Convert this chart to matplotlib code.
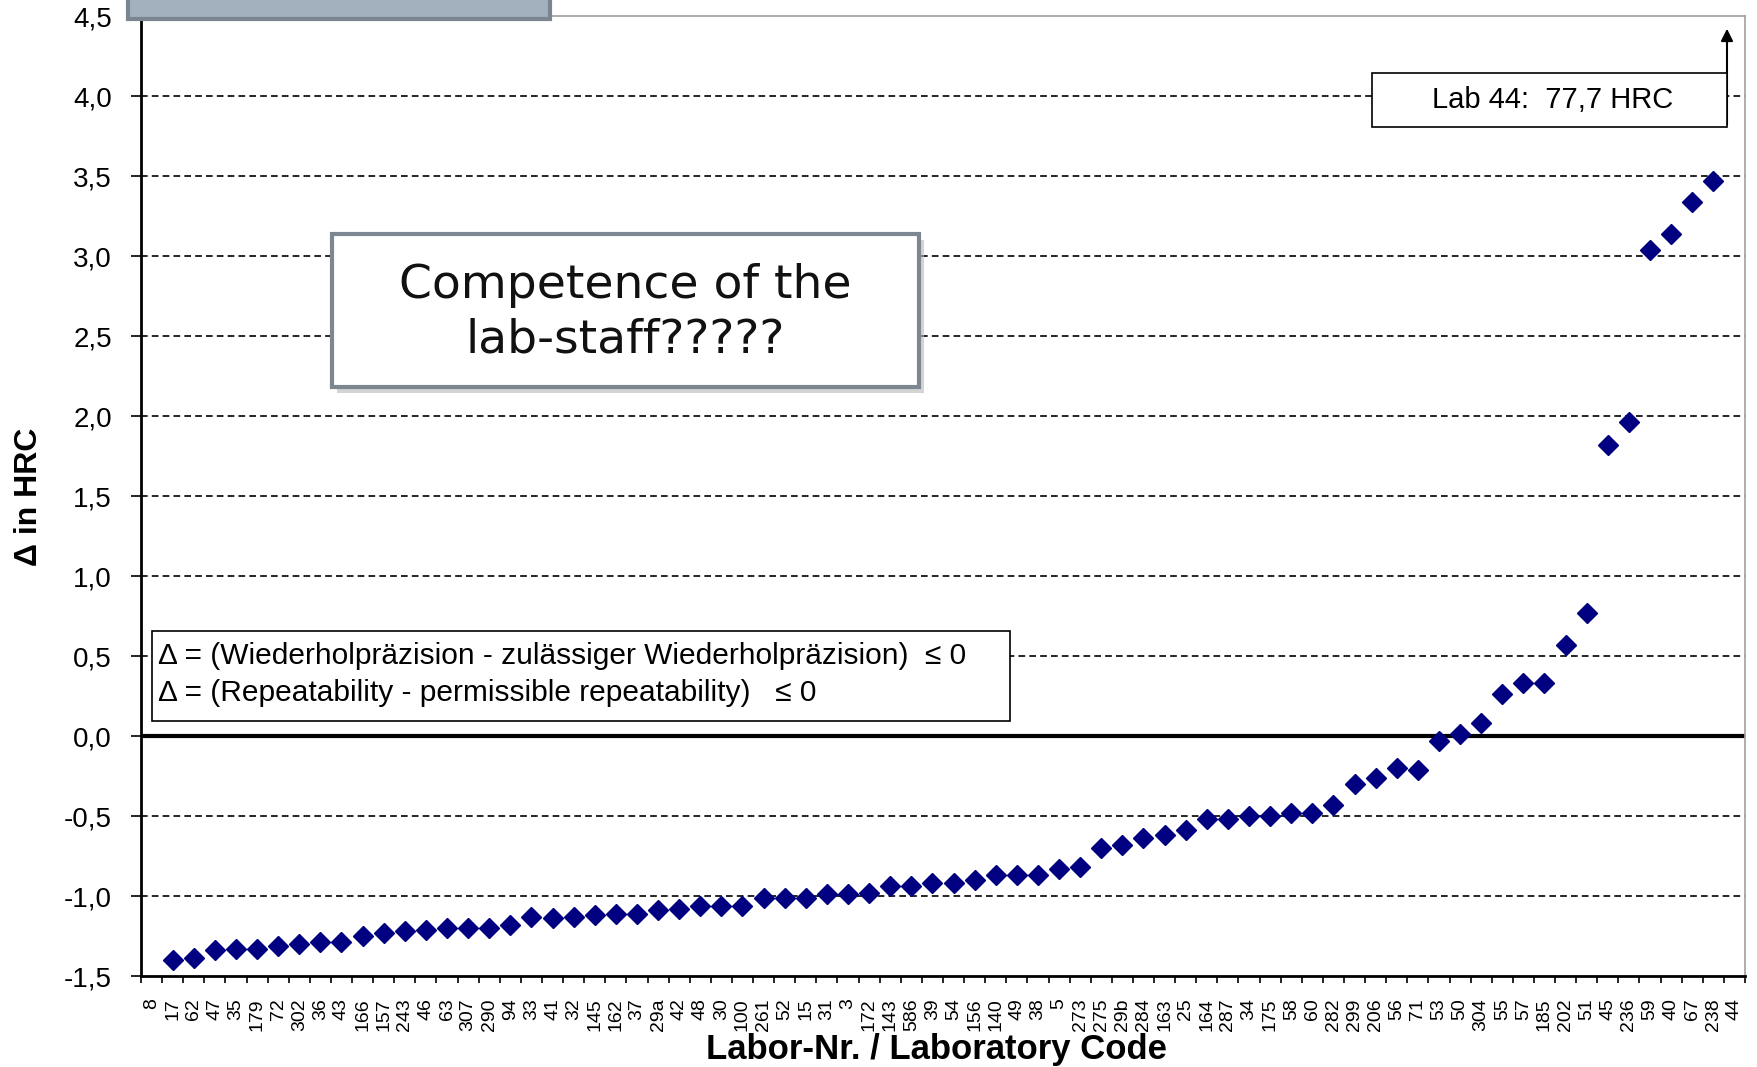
import numpy as np
import matplotlib
matplotlib.use('Agg')
import matplotlib.pyplot as plt
from matplotlib.patches import Rectangle

# laboratory codes (sorted by delta), lab 8 has no value, lab 44 is off scale
labs = ['8', '17', '62', '47', '35', '179', '72', '302', '36', '43', '166', '157', '243', '46',
        '63', '307', '290', '94', '33', '41', '32', '145', '162', '37', '29a', '42', '48', '30',
        '100', '261', '52', '15', '31', '3', '172', '143', '586', '39', '54', '156', '140', '49',
        '38', '5', '273', '275', '29b', '284', '163', '25', '164', '287', '34', '175', '58', '60',
        '282', '299', '206', '56', '71', '53', '50', '304', '55', '57', '185', '202', '51', '45',
        '236', '59', '40', '67', '238', '44']
delta = [np.nan, -1.40, -1.39, -1.34, -1.33, -1.33, -1.31, -1.30, -1.29, -1.29, -1.25, -1.23,
         -1.22, -1.21, -1.20, -1.20, -1.20, -1.18, -1.13, -1.14, -1.13, -1.12, -1.11, -1.11,
         -1.09, -1.08, -1.06, -1.06, -1.06, -1.01, -1.01, -1.01, -0.99, -0.99, -0.98, -0.94,
         -0.94, -0.92, -0.92, -0.90, -0.87, -0.87, -0.87, -0.83, -0.82, -0.70, -0.68, -0.64,
         -0.62, -0.59, -0.52, -0.52, -0.50, -0.50, -0.48, -0.48, -0.43, -0.30, -0.26, -0.20,
         -0.21, -0.03, 0.01, 0.08, 0.26, 0.33, 0.33, 0.57, 0.77, 1.82, 1.96, 3.04, 3.14, 3.34,
         3.47, np.nan]
yticks = [-1.5, -1.0, -0.5, 0.0, 0.5, 1.0, 1.5, 2.0, 2.5, 3.0, 3.5, 4.0, 4.5]

W, H = 1758, 1067
fig = plt.figure(figsize=(W / 100, H / 100), dpi=100)
ax = fig.add_axes([141 / W, 1 - 976 / H, (1745 - 141) / W, (976 - 16) / H])

def fx(px):
    return px / W

def fy(py):
    return 1 - py / H

x = np.arange(len(labs))
ax.set_xlim(-0.5, len(labs) - 0.5)
ax.set_ylim(-1.5, 4.5)

for v in yticks[1:-1]:
    if v != 0:
        ax.axhline(v, color='black', lw=1.2, ls=(0, (4, 2.5)), zorder=1)
ax.axhline(0, color='black', lw=3, zorder=2)

ax.plot(x, delta, ls='none', marker='D', ms=10, color='#000080', zorder=3)

ax.set_yticks(yticks)
ax.set_yticklabels([('%.1f' % v).replace('.', ',') for v in yticks],
                   family='Liberation Sans', fontsize=20)
ax.set_xticks(x)
ax.set_xticklabels(labs, rotation=90, family='Liberation Sans', fontsize=14, va='top')
ax.set_xticks(np.arange(-0.5, len(labs)), minor=True)
ax.tick_params(axis='x', which='major', length=0, pad=16)
ax.tick_params(axis='x', which='minor', length=5, width=1.2, direction='out')
ax.tick_params(axis='y', length=7, width=1.2, direction='out', pad=14)

for s in ['top', 'right']:
    ax.spines[s].set_color('#a0a0a0')
    ax.spines[s].set_linewidth(1.2)
ax.spines['left'].set_linewidth(2)
ax.spines['bottom'].set_linewidth(2)

fig.text(fx(29), fy(497), '\u0394 in HRC', rotation=90, ha='center', va='center',
         family='Liberation Sans', weight='bold', fontsize=23)
fig.text(fx(936), fy(1050), 'Labor-Nr. / Laboratory Code', ha='center', va='center',
         family='Liberation Sans', weight='bold', fontsize=25)

# grey box cut off at the top
fig.add_artist(Rectangle((fx(128), fy(19)), fx(550 - 128), 0.1, facecolor='#a3b1bf',
                         edgecolor='#7b8590', lw=3, clip_on=False, zorder=5))

# competence box with shadow
fig.add_artist(Rectangle((fx(337), fy(393)), fx(919 - 332), fy(234) - fy(387),
                         facecolor='#b8b8b8', edgecolor='none', alpha=0.6, zorder=5))
fig.add_artist(Rectangle((fx(332), fy(387)), fx(919 - 332), fy(234) - fy(387),
                         facecolor='white', edgecolor='#7d8791', lw=3, zorder=6))
fig.text(fx(625), fy(313), 'Competence of the\nlab-staff?????', ha='center', va='center',
         family='DejaVu Sans', fontsize=34, linespacing=1.27, color='#111111', zorder=7)

# lab 44 off-scale note
fig.add_artist(Rectangle((fx(1372), fy(127)), fx(1727 - 1372), fy(73) - fy(127),
                         facecolor='white', edgecolor='black', lw=1.2, zorder=6))
fig.text(fx(1553), fy(100), 'Lab 44:  77,7 HRC', ha='center', va='center',
         family='Liberation Sans', fontsize=21, zorder=7)
ax.annotate('', xy=(fx(1727), fy(26)), xytext=(fx(1727), fy(127)),
            xycoords='figure fraction', textcoords='figure fraction',
            arrowprops=dict(arrowstyle='-|>', color='black', lw=1.5, mutation_scale=18))

# formula box
fig.add_artist(Rectangle((fx(152), fy(721)), fx(1010 - 152), fy(631) - fy(721),
                         facecolor='white', edgecolor='black', lw=1.2, zorder=6))
fig.text(fx(158), fy(656), '\u0394 = (Wiederholpr\u00e4zision - zul\u00e4ssiger Wiederholpr\u00e4zision)  \u2264 0',
         ha='left', va='center', family='Liberation Sans', fontsize=21.5, zorder=7)
fig.text(fx(158), fy(693), '\u0394 = (Repeatability - permissible repeatability)   \u2264 0',
         ha='left', va='center', family='Liberation Sans', fontsize=21.5, zorder=7)

fig.savefig('out.png', dpi=100)
